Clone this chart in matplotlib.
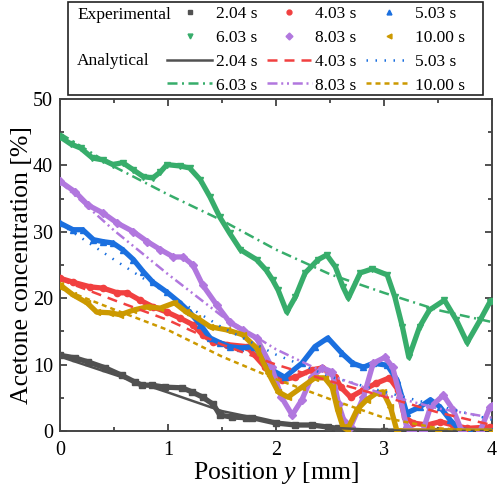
import matplotlib
matplotlib.use("Agg")
import matplotlib.pyplot as plt
from matplotlib.lines import Line2D
from matplotlib.patches import Rectangle
from matplotlib.ticker import MultipleLocator

plt.rcParams['font.family'] = ['Liberation Serif', 'DejaVu Serif']
plt.rcParams['mathtext.fontset'] = 'custom'
plt.rcParams['mathtext.it'] = 'Liberation Serif:italic'
plt.rcParams['mathtext.rm'] = 'Liberation Serif'

times = ['2.04 s', '4.03 s', '5.03 s', '6.03 s', '8.03 s', '10.00 s']
colors = ['#515151', '#F14040', '#1A6FDF', '#37AD6B', '#B177DE', '#CC9900']
markers = ['s', 'o', '^', 'v', 'D', '<']

# experimental profiles, position [mm] / concentration [%]
x_204 = [0.00, 0.14, 0.26, 0.42, 0.57, 0.69, 0.76, 0.85, 0.97, 1.13, 1.22, 1.32,
         1.42, 1.48, 1.59, 1.72, 1.78, 2.00, 2.18, 2.33, 2.48, 2.57, 2.70, 3.00,
         3.50, 4.00]
y_204 = [11.4, 11.0, 10.4, 9.5, 8.4, 7.4, 6.9, 6.9, 6.6, 6.5, 5.9, 5.1,
         4.0, 2.4, 2.1, 2.0, 2.0, 1.2, 0.9, 0.9, 0.6, 0.4, 0.0, 0.0,
         0.0, 0.0]

x_403 = [0.00, 0.12, 0.28, 0.40, 0.53, 0.62, 0.74, 0.86, 0.99, 1.11, 1.23, 1.32,
         1.42, 1.55, 1.73, 1.90, 2.06, 2.18, 2.33, 2.43, 2.55, 2.60, 2.69, 2.81,
         2.93, 3.05, 3.13, 3.19, 3.27, 3.40, 3.52, 3.64, 3.77, 3.98]
y_403 = [23.0, 22.4, 21.7, 21.5, 20.8, 20.8, 19.7, 18.7, 17.9, 17.0, 16.0, 14.5,
         13.4, 13.0, 12.7, 9.6, 7.7, 8.1, 9.2, 9.5, 8.1, 6.6, 5.1, 6.2,
         7.2, 8.0, 6.2, 2.1, 1.2, 0.9, 1.4, 0.9, 0.4, 0.6]

x_503 = [0.00, 0.12, 0.21, 0.31, 0.40, 0.49, 0.58, 0.68, 0.77, 0.86, 0.99, 1.11,
         1.20, 1.30, 1.39, 1.48, 1.57, 1.67, 1.80, 1.96, 2.08, 2.24, 2.36, 2.48,
         2.61, 2.71, 2.81, 2.90, 3.03, 3.12, 3.21, 3.33, 3.43, 3.52, 3.61, 3.70,
         3.80, 4.00]
y_503 = [31.3, 30.3, 30.3, 28.8, 28.5, 28.3, 27.3, 25.8, 24.0, 22.4, 20.9, 19.3,
         17.9, 16.0, 14.0, 13.3, 12.7, 12.5, 12.7, 9.2, 8.1, 10.2, 12.7, 14.0,
         11.7, 10.2, 9.6, 10.2, 9.9, 7.7, 2.7, 3.6, 4.7, 3.6, 1.7, 0.2,
         0.0, 0.0]

x_603 = [0.00, 0.10, 0.19, 0.30, 0.40, 0.49, 0.58, 0.68, 0.77, 0.86, 0.93, 0.99,
         1.11, 1.20, 1.30, 1.39, 1.48, 1.57, 1.67, 1.82, 1.91, 1.97, 2.02, 2.10,
         2.18, 2.27, 2.39, 2.47, 2.55, 2.62, 2.67, 2.78, 2.89, 3.03, 3.10, 3.17,
         3.23, 3.33, 3.42, 3.56, 3.67, 3.77, 3.89, 3.98, 4.00]
y_603 = [44.3, 43.2, 42.6, 41.1, 40.8, 40.1, 40.4, 39.3, 38.3, 38.1, 39.0, 40.1,
         39.9, 39.6, 37.8, 35.2, 32.2, 29.8, 27.3, 25.8, 24.2, 22.7, 21.2, 17.9,
         20.2, 23.8, 25.8, 26.5, 24.7, 21.7, 20.0, 23.8, 24.4, 23.5, 20.2, 15.7,
         11.1, 15.7, 18.2, 19.7, 16.7, 13.3, 16.7, 19.4, 19.5]

x_803 = [0.00, 0.14, 0.26, 0.40, 0.53, 0.68, 0.81, 0.93, 1.05, 1.14, 1.23, 1.32,
         1.45, 1.57, 1.69, 1.82, 1.96, 2.05, 2.15, 2.24, 2.33, 2.43, 2.52, 2.58,
         2.63, 2.69, 2.81, 2.90, 3.01, 3.08, 3.15, 3.21, 3.26, 3.36, 3.43, 3.55,
         3.64, 3.72, 3.89, 3.98, 4.00]
y_803 = [37.6, 36.0, 34.0, 32.8, 31.3, 30.0, 28.5, 27.3, 26.2, 26.2, 25.0, 22.0,
         19.0, 16.4, 15.2, 14.0, 9.6, 5.1, 2.4, 4.7, 8.1, 9.5, 8.9, 4.0,
         1.5, 0.6, 5.1, 10.2, 11.1, 9.6, 5.1, 0.6, 0.0, 0.0, 3.6, 5.4,
         3.2, 0.0, 0.0, 3.6, 3.8]

x_1000 = [0.00, 0.12, 0.25, 0.34, 0.46, 0.56, 0.68, 0.81, 0.93, 1.06, 1.17, 1.27,
          1.39, 1.55, 1.69, 1.82, 1.93, 2.02, 2.11, 2.24, 2.36, 2.45, 2.52, 2.57,
          2.62, 2.66, 2.75, 2.84, 2.93, 2.99, 3.06, 3.12, 3.50, 4.00]
y_1000 = [22.0, 20.5, 19.3, 17.9, 17.8, 17.5, 18.2, 18.7, 18.5, 19.3, 17.9, 17.0,
          15.7, 15.2, 14.5, 12.5, 8.7, 5.9, 5.1, 6.6, 8.0, 8.0, 6.6, 3.2,
          0.6, 0.15, 3.2, 4.7, 5.7, 5.9, 3.6, 0.0, 0.0, 0.0]

# analytical profiles
x_ana = [0.0, 0.5, 1.0, 1.5, 2.0, 2.5, 3.0, 3.5, 4.0]
a_204 = [11.2, 8.5, 5.8, 3.0, 1.3, 0.5, 0.1, 0.0, 0.0]
a_403 = [22.8, 19.7, 16.7, 13.0, 10.0, 7.5, 5.2, 2.8, 0.9]
a_503 = [31.2, 25.8, 20.6, 15.6, 11.5, 8.2, 5.9, 3.8, 1.7]
a_603 = [44.8, 39.8, 35.6, 31.7, 27.3, 23.6, 20.8, 18.2, 16.4]
a_803 = [37.5, 30.2, 23.6, 17.3, 12.3, 8.4, 5.5, 3.4, 2.0]
a_1000 = [21.5, 18.3, 15.2, 11.2, 7.8, 4.8, 2.0, 0.4, 0.0]

exp_x = [x_204, x_403, x_503, x_603, x_803, x_1000]
exp_y = [y_204, y_403, y_503, y_603, y_803, y_1000]
ana_y = [a_204, a_403, a_503, a_603, a_803, a_1000]
dashes = [None, (4, 2.8), (0.6, 3.0), (4, 1.8, 0.8, 1.8), (4, 1.5, 0.8, 1.5, 0.8, 1.5), (2, 1.6)]

fig = plt.figure(figsize=(5, 4.87), dpi=100)
ax = fig.add_axes([0.12, 0.115, 0.864, 0.682])

for xs, ys, c, m in zip(exp_x, exp_y, colors, markers):
    ax.plot(xs, ys, color=c, lw=3.8, marker=m, ms=4.5, mec=c, zorder=3)

ana_handles = []
for ys, c, d in zip(ana_y, colors, dashes):
    ln, = ax.plot(x_ana, ys, color=c, lw=1.8, zorder=4)
    if d is not None:
        ln.set_dashes(d)
    ana_handles.append(ln)

ax.set_xlim(0, 4)
ax.set_ylim(0, 50)
ax.xaxis.set_major_locator(MultipleLocator(1))
ax.xaxis.set_minor_locator(MultipleLocator(0.5))
ax.yaxis.set_major_locator(MultipleLocator(10))
ax.yaxis.set_minor_locator(MultipleLocator(5))
ax.tick_params(which='both', direction='in', top=True, right=True,
               labelsize=14.5, width=1.2, color='#333333')
ax.tick_params(axis='x', pad=7)
ax.tick_params(axis='y', pad=5)
ax.tick_params(which='major', length=5)
ax.tick_params(which='minor', length=3)
for sp in ax.spines.values():
    sp.set_linewidth(1.4)
    sp.set_color('#444444')
ax.set_xlabel('Position $y$ [mm]', fontsize=18.5, labelpad=0)
ax.set_ylabel('Acetone concentration [%]', fontsize=18.5, labelpad=0)

# legend: experimental markers in rows 1-2, analytical lines in rows 3-4
exp_handles = [Line2D([], [], color=c, marker=m, ms=3.5, linestyle='none')
               for c, m in zip(colors, markers)]
handles = exp_handles + ana_handles
labels = times + times
# reorder for column-wise filling with ncol=3
order = [0, 3, 6, 9, 1, 4, 7, 10, 2, 5, 8, 11]
leg = fig.legend([handles[i] for i in order], [labels[i] for i in order],
                 ncol=3, loc='upper left', bbox_to_anchor=(167 / 500, 1 - 6 / 487),
                 frameon=False, fontsize=12.5, handlelength=2.6, handletextpad=0.2,
                 columnspacing=0.55, labelspacing=0.44, borderpad=0, borderaxespad=0)

fig.text(77 / 500, 1 - 15 / 487, 'Experimental', fontsize=12.5, va='center')
fig.text(77 / 500, 1 - 61 / 487, 'Analytical', fontsize=12.5, va='center')
fig.patches.append(Rectangle((68 / 500, 1 - 95 / 487), 415 / 500, 93 / 487,
                             transform=fig.transFigure, fill=False,
                             edgecolor='#222222', lw=1.2))

fig.savefig('out.png', dpi=100)
